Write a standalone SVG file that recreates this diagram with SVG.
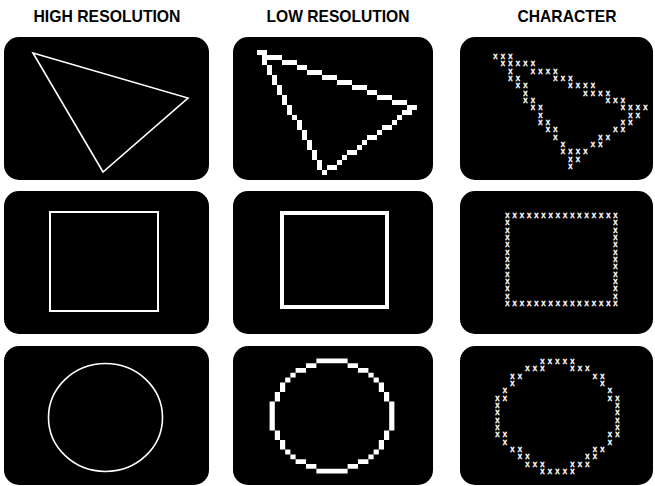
<svg xmlns="http://www.w3.org/2000/svg" xmlns:xlink="http://www.w3.org/1999/xlink" width="655" height="486" viewBox="0 0 655 486">
<style>
.title{font-family:"Liberation Sans",Arial,sans-serif;font-size:17px;font-weight:bold;fill:#000;text-anchor:middle}
.scr{fill:#000}
.hl{fill:none;stroke:#fff;stroke-width:1.6}
.px{fill:#fff}
.ch{font-family:"Liberation Sans",Arial,sans-serif;font-weight:bold;font-size:6.4px;fill:#fff;stroke:#fff;stroke-width:0.35;text-anchor:middle}
</style>
<defs>
<path id="q" d="M0,-12h3v1h-3z M3,-11h2v1h-2z M5,-10h2v1h-2z M7,-9h1v1h-1z M8,-8h1v1h-1z M9,-7h1v2h-1z M10,-5h1v2h-1z M11,-3h1v3h-1z"/>
</defs>
<rect width="655" height="486" fill="#fff"/>
<g id="titles">
<text class="title" x="107" y="22" textLength="147" lengthAdjust="spacingAndGlyphs">HIGH RESOLUTION</text>
<text class="title" x="338" y="22" textLength="143" lengthAdjust="spacingAndGlyphs">LOW RESOLUTION</text>
<text class="title" x="567" y="22" textLength="99" lengthAdjust="spacingAndGlyphs">CHARACTER</text>
</g>
<g id="hires-triangle">
<rect class="scr" x="4" y="37" width="205" height="143" rx="15"/>
<polygon class="hl" points="33,53 188,98 103,172"/>
</g>
<g id="lores-triangle">
<rect class="scr" x="233" y="37" width="200" height="143" rx="15"/>
<path class="px" d="M257 50h10v5h-10z M267 55h15v5h-15z M282 60h15v5h-15z M297 65h10v5h-10z M307 70h15v5h-15z M322 75h15v5h-15z M337 80h15v5h-15z M352 85h15v5h-15z M367 90h10v5h-10z M377 95h15v5h-15z M392 100h15v5h-15z M407 105h10v5h-10z
M402 110h10v5h-10z M397 115h5v5h-5z M392 120h5v5h-5z M382 125h10v5h-10z M377 130h5v5h-5z M367 135h10v5h-10z M362 140h5v5h-5z M357 145h5v5h-5z M347 150h10v5h-10z M342 155h5v5h-5z M337 160h5v5h-5z M327 165h10v5h-10z M322 170h5v5h-5z
M262 55h5v10h-5z M267 65h5v10h-5z M272 75h5v10h-5z M277 85h5v10h-5z M282 95h5v10h-5z M287 105h5v10h-5z M292 115h5v5h-5z M297 120h5v10h-5z M302 130h5v10h-5z M307 140h5v10h-5z M312 150h5v10h-5z M317 160h5v10h-5z"/>
</g>
<g id="char-triangle">
<rect class="scr" x="460" y="37" width="193" height="143" rx="15"/>
<text class="ch" x="495.5 503 510.5" y="59.1">XXX</text>
<text class="ch" x="503 510.5 518 525.5 533" y="66.4">XXXXX</text>
<text class="ch" x="510.5 533 540.5 548 555.5" y="73.7">XXXXX</text>
<text class="ch" x="510.5 518 555.5 563 570.5" y="81.1">XXXXX</text>
<text class="ch" x="518 525.5 570.5 578 585.5 593" y="88.4">XXXXXX</text>
<text class="ch" x="525.5 585.5 593 600.5 608" y="95.7">XXXXX</text>
<text class="ch" x="525.5 533 608 615.5 623" y="103">XXXXX</text>
<text class="ch" x="533 540.5 623 630.5 638 645.5" y="110.4">XXXXXX</text>
<text class="ch" x="540.5 630.5 638" y="117.7">XXX</text>
<text class="ch" x="540.5 548 623 630.5" y="125">XXXX</text>
<text class="ch" x="548 555.5 615.5 623" y="132.4">XXXX</text>
<text class="ch" x="555.5 600.5 608" y="139.7">XXX</text>
<text class="ch" x="563 593 600.5" y="147">XXX</text>
<text class="ch" x="563 570.5 578 585.5" y="154.3">XXXX</text>
<text class="ch" x="570.5 578" y="161.7">XX</text>
<text class="ch" x="570.5" y="169">X</text>
</g>
<g id="hires-square">
<rect class="scr" x="4" y="191" width="205" height="143" rx="15"/>
<rect class="hl" x="50" y="212" width="108" height="99" style="stroke-width:2"/>
</g>
<g id="lores-square">
<rect class="scr" x="233" y="191" width="200" height="143" rx="15"/>
<rect class="hl" x="282" y="213" width="105" height="94" style="stroke-width:4"/>
</g>
<g id="char-square">
<rect class="scr" x="460" y="191" width="193" height="143" rx="15"/>
<text class="ch" x="507.5 514.7 521.9 529.1 536.3 543.5 550.7 557.9 565.1 572.3 579.5 586.7 593.9 601.1 608.3 615.5" y="217.9">XXXXXXXXXXXXXXXX</text>
<text class="ch" x="507.5 615.5" y="225.2">XX</text>
<text class="ch" x="507.5 615.5" y="232.5">XX</text>
<text class="ch" x="507.5 615.5" y="239.8">XX</text>
<text class="ch" x="507.5 615.5" y="247.2">XX</text>
<text class="ch" x="507.5 615.5" y="254.5">XX</text>
<text class="ch" x="507.5 615.5" y="261.8">XX</text>
<text class="ch" x="507.5 615.5" y="269.2">XX</text>
<text class="ch" x="507.5 615.5" y="276.5">XX</text>
<text class="ch" x="507.5 615.5" y="283.8">XX</text>
<text class="ch" x="507.5 615.5" y="291.2">XX</text>
<text class="ch" x="507.5 615.5" y="298.5">XX</text>
<text class="ch" x="507.5 514.7 521.9 529.1 536.3 543.5 550.7 557.9 565.1 572.3 579.5 586.7 593.9 601.1 608.3 615.5" y="305.8">XXXXXXXXXXXXXXXX</text>
</g>
<g id="hires-circle">
<rect class="scr" x="4" y="346" width="205" height="139" rx="15"/>
<ellipse class="hl" cx="105.5" cy="417.5" rx="57" ry="54"/>
</g>
<g id="lores-circle">
<rect class="scr" x="233" y="346" width="200" height="139" rx="15"/>
<g class="px" transform="translate(332,416) scale(5.2,4.8)">
<use xlink:href="#q"/>
<use xlink:href="#q" transform="scale(-1,1)"/>
<use xlink:href="#q" transform="scale(1,-1)"/>
<use xlink:href="#q" transform="scale(-1,-1)"/>
</g>
</g>
<g id="char-circle">
<rect class="scr" x="460" y="346" width="193" height="139" rx="15"/>
<text class="ch" x="542.5 550 557.5 565 572.5" y="364.1">XXXXX</text>
<text class="ch" x="527.5 535 542.5 572.5 580 587.5" y="371.4">XXXXXX</text>
<text class="ch" x="512.5 520 595 602.5" y="378.7">XXXX</text>
<text class="ch" x="512.5 602.5" y="386">XX</text>
<text class="ch" x="505 610" y="393.4">XX</text>
<text class="ch" x="497.5 505 610 617.5" y="400.7">XXXX</text>
<text class="ch" x="497.5 617.5" y="408">XX</text>
<text class="ch" x="497.5 617.5" y="415.4">XX</text>
<text class="ch" x="497.5 617.5" y="422.7">XX</text>
<text class="ch" x="497.5 617.5" y="430">XX</text>
<text class="ch" x="497.5 505 610 617.5" y="437.4">XXXX</text>
<text class="ch" x="505 610" y="444.7">XX</text>
<text class="ch" x="512.5 520 595 602.5" y="452">XXXX</text>
<text class="ch" x="520 527.5 587.5 595" y="459.3">XXXX</text>
<text class="ch" x="527.5 535 542.5 572.5 580 587.5" y="466.7">XXXXXX</text>
<text class="ch" x="542.5 550 557.5 565 572.5" y="474">XXXXX</text>
</g>
<g id="connectors"/>
</svg>
